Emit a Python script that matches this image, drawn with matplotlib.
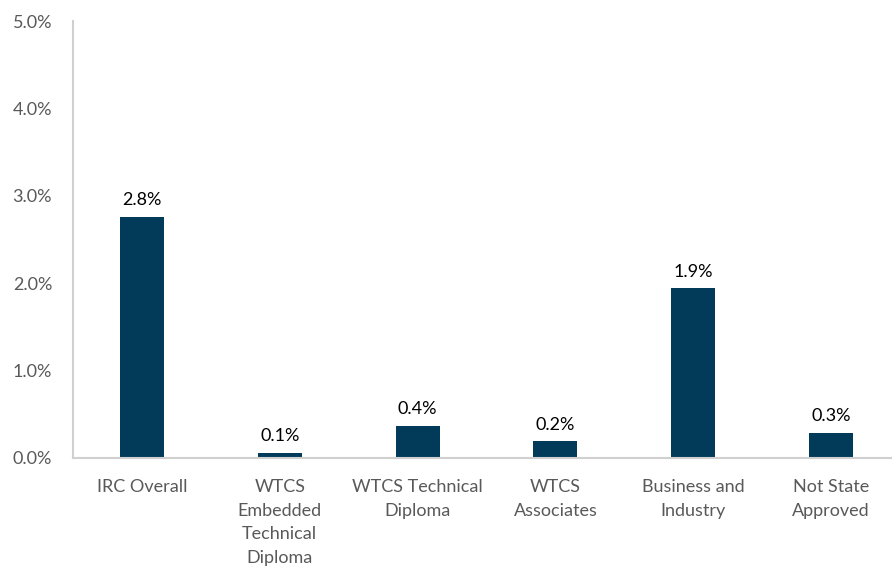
import numpy as np
import matplotlib.pyplot as plt
from matplotlib.ticker import FuncFormatter

categories = ["IRC Overall", "WTCS\nEmbedded\nTechnical\nDiploma", "WTCS Technical\nDiploma",
              "WTCS\nAssociates", "Business and\nIndustry", "Not State\nApproved"]
rates = [2.76, 0.06, 0.37, 0.19, 1.94, 0.29]  # percent

plt.rcParams["font.family"] = ["Lato", "DejaVu Sans"]

fig = plt.figure(figsize=(8.92, 5.71), dpi=100)
ax = fig.add_axes([0.0818, 0.198, 0.9272, 0.765])

x = np.arange(len(categories))
bars = ax.bar(x, rates, width=0.32, color="#023b59")

for b, v in zip(bars, rates):
    ax.text(b.get_x() + b.get_width() / 2, v + 0.1, f"{v:.1f}%",
            ha="center", va="bottom", fontsize=13, color="black")

ax.set_ylim(0, 5)
ax.set_yticks(np.arange(0, 5.01, 1))
ax.yaxis.set_major_formatter(FuncFormatter(lambda v, p: f"{v:.1f}%"))
ax.set_xlim(-0.5, 5.5)
ax.set_xticks(x)
ax.set_xticklabels(categories, linespacing=1.6)

ax.tick_params(axis="both", length=0, labelsize=13, labelcolor="#595959")
ax.tick_params(axis="x", pad=15)
ax.tick_params(axis="y", pad=15)
for s in ["top", "right"]:
    ax.spines[s].set_visible(False)
for s in ["left", "bottom"]:
    ax.spines[s].set_color("#d0d0d0")
    ax.spines[s].set_linewidth(1.5)

fig.savefig("out.png", dpi=100)
